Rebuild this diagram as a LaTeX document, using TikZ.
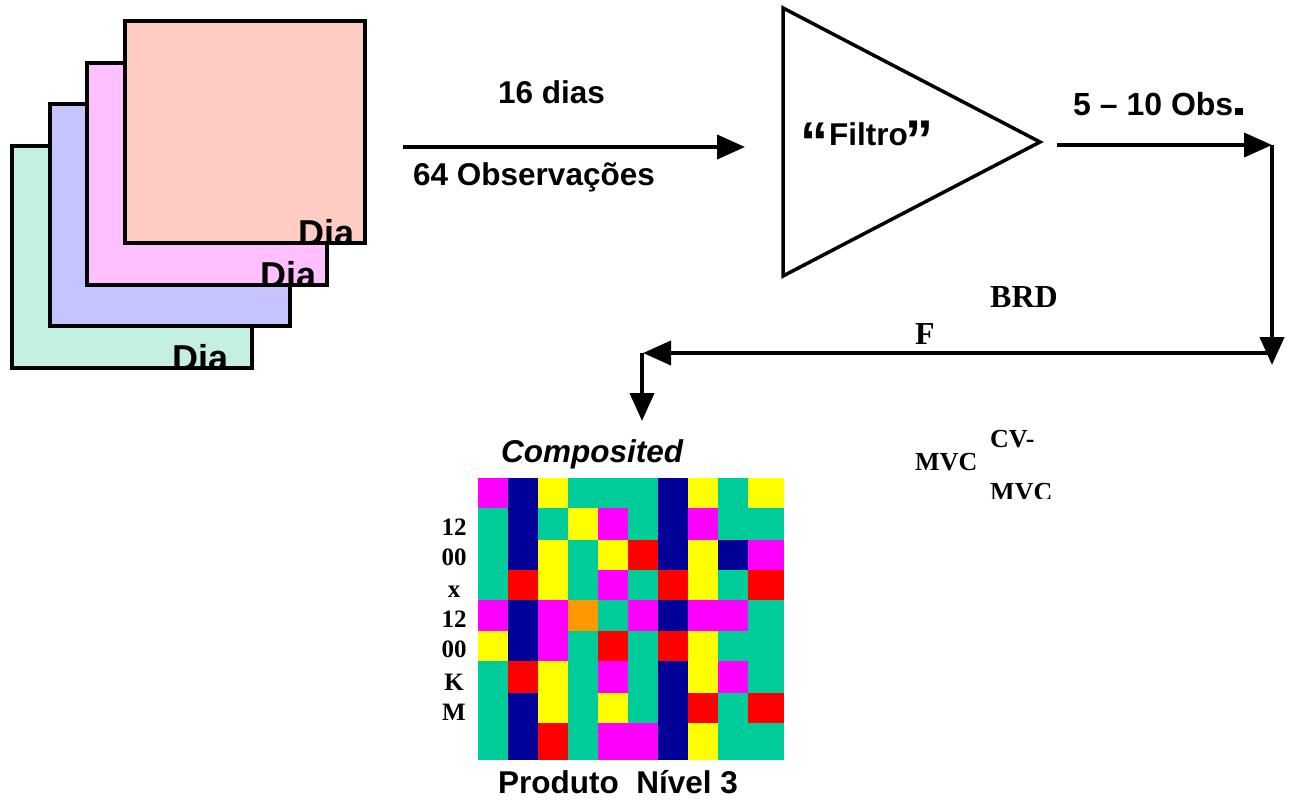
\documentclass[tikz,border=0pt]{standalone}
\usepackage{fontspec}
\setmainfont{Liberation Sans}
\newfontfamily\serifbf{Liberation Serif}
\usetikzlibrary{arrows.meta}

% daily sheets
\definecolor{dayA}{HTML}{C4F0E4}
\definecolor{dayB}{HTML}{C4C4FF}
\definecolor{dayC}{HTML}{FFC0FF}
\definecolor{dayD}{HTML}{FFCCC4}
% composite pixels
\definecolor{pxM}{HTML}{FF00FF}
\definecolor{pxB}{HTML}{000099}
\definecolor{pxY}{HTML}{FFFF00}
\definecolor{pxG}{HTML}{00CC99}
\definecolor{pxR}{HTML}{FF0000}
\definecolor{pxO}{HTML}{FF9900}

\begin{document}
\begin{tikzpicture}[x=1pt,y=-1pt,
  sheet/.style={draw=black,line width=3.5pt,line join=miter},
  flow/.style={line width=4pt,-{Triangle[length=28pt,width=24pt]}},
  lbl/.style={inner sep=0pt,anchor=base west,font=\fontsize{31.5}{36}\selectfont\bfseries},
  daylbl/.style={inner sep=0pt,anchor=base west,font=\fontsize{36}{40}\selectfont\bfseries},
  quote/.style={inner sep=0pt,anchor=base west,font=\fontsize{56}{60}\selectfont\bfseries},
  serbig/.style={inner sep=0pt,anchor=base west,font=\fontsize{32}{36}\selectfont\serifbf\bfseries},
  sersmall/.style={inner sep=0pt,anchor=base west,font=\fontsize{26}{30}\selectfont\serifbf\bfseries},
  side/.style={inner sep=0pt,anchor=base,font=\fontsize{25}{30}\selectfont\serifbf\bfseries},
]
\useasboundingbox (0,0) rectangle (1289,800);

% ---- stack of daily images (back to front) ----
\foreach \sx/\sy/\col/\dx/\name in {12/146/dayA/172/d1, 50/104/dayB/0/d2, 87/63/dayC/260/d3, 125/21/dayD/298/d4}{
  \fill[\col] (\sx,\sy) rectangle ++(240,222);
  \ifnum\dx>0
    \begin{scope}
      \clip (\sx-1.75,\sy-1.75) rectangle ++(243.5,225.5);
      \node[daylbl] (\name) at (\dx,\sy+224) {Dia};
    \end{scope}
  \fi
  \draw[sheet] (\sx,\sy) rectangle ++(240,222);
}

% ---- input arrow ----
\coordinate (inS) at (403,147);
\coordinate (inE) at (745,147);
\draw[flow] (inS) -- (inE);
\node[lbl] (days) at (498,103) {16 dias};
\node[lbl] (obs) at (413,185) {64 Observações};

% ---- filter ----
\coordinate (tA) at (783,8);
\coordinate (tB) at (783,276);
\coordinate (tC) at (1040,142);
\draw[line width=3.5pt,line join=miter] (tA) -- (tC) -- (tB) -- cycle;
\node[quote] (qo) at (800,161) {“};
\node[lbl] (filtro) at (829,145) {Filtro};
\node[quote] (qc) at (905,159) {”};

% ---- output of the filter ----
\coordinate (outS) at (1057,145);
\coordinate (outE) at (1272,145);
\draw[flow] (outS) -- (outE);
\node[lbl,font=\fontsize{32}{36}\selectfont\bfseries] (few) at (1073,115) {5 – 10 Obs};
\fill (1235,108) rectangle (1243,115);

\coordinate (dn) at (1272,365);
\draw[flow] (outE) -- (dn);
\coordinate (rt) at (1272,353);
\coordinate (lf) at (643,353);
\draw[flow] (rt) -- (lf);
\coordinate (cn) at (642,353);
\coordinate (gr) at (642,421);
\draw[flow] (cn) -- (gr);

% ---- algorithm labels ----
\node[serbig] (brd) at (990,307) {BRD};
\node[serbig] (brf) at (915,344) {F};
\node[sersmall] (cv) at (990,447) {CV-};
\node[sersmall] (mvc) at (915,470) {MVC};
\begin{scope}
  \clip (980,470) rectangle (1100,498);
  \node[sersmall] (mvc2) at (990,500) {MVC};
\end{scope}

% ---- composite grid ----
\node[lbl,font=\fontsize{31.5}{36}\selectfont\bfseries\itshape] (comp) at (501,462) {Composited};
\def\gx{{478,508,538,568,598,628,658,688,718,748,783}}
\foreach \ya/\yb/\cols in {
  478/508/{pxM,pxB,pxY,pxG,pxG,pxG,pxB,pxY,pxG,pxY},
  508/540/{pxG,pxB,pxG,pxY,pxM,pxG,pxB,pxM,pxG,pxG},
  540/570/{pxG,pxB,pxY,pxG,pxY,pxR,pxB,pxY,pxB,pxM},
  570/600/{pxG,pxR,pxY,pxG,pxM,pxG,pxR,pxY,pxG,pxR},
  600/631/{pxM,pxB,pxM,pxO,pxG,pxM,pxB,pxM,pxM,pxG},
  631/661/{pxY,pxB,pxM,pxG,pxR,pxG,pxR,pxY,pxG,pxG},
  661/693/{pxG,pxR,pxY,pxG,pxM,pxG,pxB,pxY,pxM,pxG},
  693/723/{pxG,pxB,pxY,pxG,pxY,pxG,pxB,pxR,pxG,pxR},
  723/759/{pxG,pxB,pxR,pxG,pxM,pxM,pxB,pxY,pxG,pxG}}{
  \foreach \c [count=\i from 0] in \cols {
    \pgfmathsetmacro\xa{\gx[\i]}
    \pgfmathsetmacro\xb{\gx[\i+1]}
    \fill[\c,draw=\c,line width=0.4pt] (\xa,\ya) rectangle (\xb,\yb);
  }
}

% size of the composite
\foreach \t/\yy/\n in {12/535/s1, 00/565/s2, x/597/s3, 12/627/s4, 00/657/s5, K/690/s6, M/720/s7}{
  \node[side] (\n) at (454,\yy) {\t};
}

\node[lbl] (prod) at (498,793) {Produto~~Nível 3};
\end{tikzpicture}
\end{document}
